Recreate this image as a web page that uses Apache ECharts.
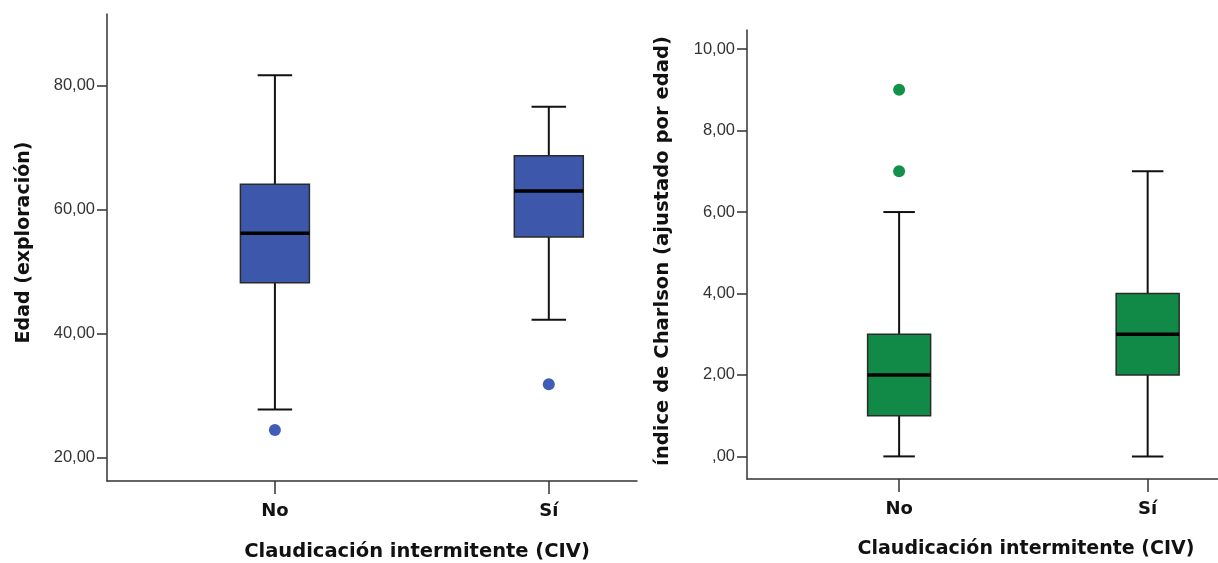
<!DOCTYPE html>
<html><head><meta charset="utf-8">
<script src="https://cdn.jsdelivr.net/npm/echarts@6/dist/echarts.min.js"></script>
<style>html,body{margin:0;padding:0;background:#fff}#c{width:1218px;height:563px}</style>
</head><body><div id="c"></div>
<script>
// ---- data ----
const categories = ['No', 'Sí'];
// Edad (exploración): [min, Q1, median, Q3, max] per category
const edadBoxes = [[27.7, 48.2, 56.2, 64.1, 81.7], [42.2, 55.6, 63.0, 68.7, 76.6]];
const edadOutliers = [[0, 24.4], [1, 31.8]];
// Índice de Charlson: [min, Q1, median, Q3, max]
const charlsonBoxes = [[0, 1, 2, 3, 6], [0, 2, 3, 4, 7]];
const charlsonOutliers = [[0, 7], [0, 9]];
const edadTicks = [20, 40, 60, 80];
const charlsonTicks = [0, 2, 4, 6, 8, 10];
const catIdx = categories.map((c, i) => i);

const blue = '#3d58aa', blueDot = '#3f5cb6';
const green = '#128a47', greenDot = '#12914a';

const fmtNum = v => v === 0 ? ',00' : v.toFixed(2).replace('.', ',');

function boxRenderer(fill, boxW) {
  return function (params, api) {
    const x = api.value(0);
    const c = v => api.coord([x, v]);
    const pMin = c(api.value(1)), pQ1 = c(api.value(2)), pMed = c(api.value(3)),
          pQ3 = c(api.value(4)), pMax = c(api.value(5));
    const cx = pMin[0], hw = boxW / 2, cw = boxW / 4;
    const ls = { stroke: '#111', lineWidth: 2 };
    return { type: 'group', children: [
      { type: 'line', shape: { x1: cx, y1: pMax[1], x2: cx, y2: pQ3[1] }, style: ls },
      { type: 'line', shape: { x1: cx, y1: pQ1[1], x2: cx, y2: pMin[1] }, style: ls },
      { type: 'line', shape: { x1: cx - cw, y1: pMax[1], x2: cx + cw, y2: pMax[1] }, style: ls },
      { type: 'line', shape: { x1: cx - cw, y1: pMin[1], x2: cx + cw, y2: pMin[1] }, style: ls },
      { type: 'rect', shape: { x: cx - hw, y: pQ3[1], width: boxW, height: pQ1[1] - pQ3[1] },
        style: { fill: fill, stroke: '#2a2a2a', lineWidth: 1.5 } },
      { type: 'line', shape: { x1: cx - hw, y1: pMed[1], x2: cx + hw, y2: pMed[1] },
        style: { stroke: '#000', lineWidth: 3.5 } }
    ]};
  };
}

const titleFont = { fontFamily: 'DejaVu Sans', fontWeight: 'bold', fontSize: 19, color: '#111' };
const axisLineStyle = { show: true, onZero: false, lineStyle: { color: '#333', width: 1.5 } };

function xAxisDef(gridIndex, min, max) {
  return {
    type: 'value', gridIndex, min, max,
    splitLine: { show: false },
    axisLine: axisLineStyle,
    axisTick: { show: true, customValues: catIdx, length: 13, lineStyle: { color: '#333', width: 1.5 } },
    axisLabel: { customValues: catIdx, formatter: v => categories[Math.round(v)] || '',
      margin: 21, fontFamily: 'DejaVu Sans', fontWeight: 'bold', fontSize: 18, color: '#111' }
  };
}
function yAxisDef(gridIndex, min, max, ticks, name, gap, namePad, nameSize, labelPad) {
  return {
    type: 'value', gridIndex, min, max,
    name, nameLocation: 'middle', nameGap: gap, nameRotate: 90,
    nameTextStyle: Object.assign({}, titleFont, { fontSize: nameSize, padding: namePad }),
    splitLine: { show: false },
    axisLine: axisLineStyle,
    axisTick: { show: true, customValues: ticks, length: 10, lineStyle: { color: '#333', width: 1.5 } },
    axisLabel: { customValues: ticks, formatter: fmtNum, margin: 12, padding: labelPad,
      fontFamily: 'Liberation Sans', fontSize: 16.5, color: '#333' }
  };
}

const chart = echarts.init(document.getElementById('c'), null, { renderer: 'canvas' });
chart.setOption({
  backgroundColor: '#fff',
  animation: false,
  title: [
    { text: 'Claudicación intermitente (CIV)', left: 412, top: 537, textAlign: 'center',
      textStyle: Object.assign({}, titleFont, { fontSize: 19.5 }) },
    { text: 'Claudicación intermitente (CIV)', left: 1021, top: 535, textAlign: 'center', textStyle: titleFont }
  ],
  grid: [
    { left: 107, top: 14, width: 530, height: 467 },
    { left: 747, top: 30, width: 471, height: 449 }
  ],
  xAxis: [xAxisDef(0, -0.613, 1.322), xAxisDef(1, -0.612, 1.283)],
  yAxis: [
    yAxisDef(0, 16.17, 91.6, edadTicks, 'Edad (exploración)', 73, [0, 0, 0, 10], 19, [6, 0, 0, 0]),
    yAxisDef(1, -0.555, 10.47, charlsonTicks, 'índice de Charlson (ajustado por edad)', 74, [0, 0, 0, 7], 19.6, [2, 0, 0, 0])
  ],
  series: [
    { type: 'custom', xAxisIndex: 0, yAxisIndex: 0, renderItem: boxRenderer(blue, 69),
      encode: { x: 0, y: [1, 2, 3, 4, 5] }, data: edadBoxes.map((b, i) => [i].concat(b)) },
    { type: 'scatter', xAxisIndex: 0, yAxisIndex: 0, symbolSize: 12,
      itemStyle: { color: blueDot, opacity: 1 }, data: edadOutliers },
    { type: 'custom', xAxisIndex: 1, yAxisIndex: 1, renderItem: boxRenderer(green, 63),
      encode: { x: 0, y: [1, 2, 3, 4, 5] }, data: charlsonBoxes.map((b, i) => [i].concat(b)) },
    { type: 'scatter', xAxisIndex: 1, yAxisIndex: 1, symbolSize: 12,
      itemStyle: { color: greenDot, opacity: 1 }, data: charlsonOutliers }
  ]
});
</script></body></html>
